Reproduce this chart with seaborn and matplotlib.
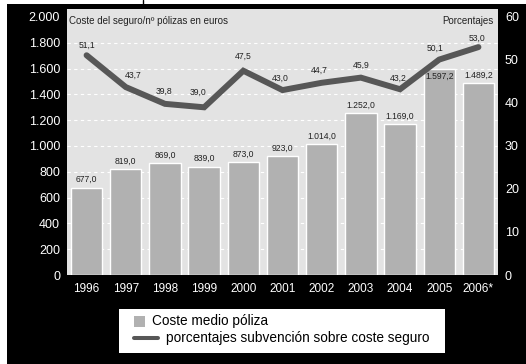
import numpy as np
import pandas as pd
import seaborn as sns
import matplotlib.pyplot as plt
from matplotlib.patches import Rectangle
from matplotlib.lines import Line2D

# Datos
years = ["1996", "1997", "1998", "1999", "2000", "2001", "2002", "2003", "2004", "2005", "2006*"]
coste_medio = [677.0, 819.0, 869.0, 839.0, 873.0, 923.0, 1014.0, 1252.0, 1169.0, 1597.2, 1489.2]
subvencion = [51.1, 43.7, 39.8, 39.0, 47.5, 43.0, 44.7, 45.9, 43.2, 50.1, 53.0]

# desplazamiento (px) de las etiquetas de la línea, colocadas a mano en el original
pct_dx = [0, 7, -1, -6, 0, -2, -2, 0, -2, -4, -1]
pct_dy = [10, 12, 13, 15, 14, 12, 12, 12, 11, 11, 9]

PX = 72 / 100  # px -> points


def es_num(v):
    s = f"{v:,.1f}"
    return s.replace(",", "X").replace(".", ",").replace("X", ".")


def main():
    sns.set_theme(style="white")
    plt.rcParams["font.family"] = ["Liberation Sans", "DejaVu Sans"]

    fig = plt.figure(figsize=(5.26, 3.64), dpi=100, facecolor="white")
    # fondo negro con pequeño margen blanco arriba e izquierda
    fig.patches.append(Rectangle((7 / 526, 0), 1, 1 - 4 / 364, transform=fig.transFigure,
                                 facecolor="black", edgecolor="none", zorder=-10))
    fig.lines.append(Line2D([143 / 526, 143 / 526], [1 - 4 / 364, 1], transform=fig.transFigure,
                            color="black", lw=1))

    ax = fig.add_axes([67 / 526, 1 - 275 / 364, 431 / 526, 266 / 364])
    ax.set_facecolor("#e3e3e3")

    df = pd.DataFrame({"anio": years, "coste": coste_medio, "pct": subvencion})
    sns.barplot(data=df, x="anio", y="coste", color="#b1b1b1", saturation=1,
                width=0.8, ax=ax, zorder=2)

    ymax = 2062
    ax.set_ylim(0, ymax)
    ax.set_xlim(-0.5, len(years) - 0.5)
    ax.set_yticks(range(0, 2001, 200))
    ax.set_yticklabels([f"{v:,}".replace(",", ".") for v in range(0, 2001, 200)])
    for v in range(0, 1801, 200):
        ax.axhline(v, color="white", lw=0.8, ls=(0, (3, 3)), zorder=1)
    ax.set_xlabel("")
    ax.set_ylabel("")
    for s in ax.spines.values():
        s.set_visible(False)
    ax.tick_params(axis="y", colors="white", labelsize=9, length=0, pad=5)
    ax.tick_params(axis="x", colors="white", labelsize=8.5, length=0, pad=6)

    for i, v in enumerate(coste_medio):
        off = -7 if i == 9 else 8
        ax.annotate(es_num(v), (i, v), xytext=(0, off * PX), textcoords="offset points",
                    ha="center", va="center", fontsize=6.2, color="#222222", zorder=5)

    ax2 = ax.twinx()
    ax2.set_ylim(0, ymax * 0.03)
    sns.lineplot(x=np.arange(len(years)), y=subvencion, color="#575757", lw=4.3,
                 ax=ax2, zorder=4, solid_joinstyle="miter")
    ax2.set_yticks(range(0, 61, 10))
    for s in ax2.spines.values():
        s.set_visible(False)
    ax2.tick_params(axis="y", colors="white", labelsize=9, length=0, pad=5)
    ax2.grid(False)
    for i, v in enumerate(subvencion):
        ax2.annotate(es_num(v), (i, v), xytext=(pct_dx[i] * PX, pct_dy[i] * PX),
                     textcoords="offset points", ha="center", va="center",
                     fontsize=6.2, color="#222222", zorder=5)

    ax.text(0.004, 0.955, "Coste del seguro/nº pólizas en euros", transform=ax.transAxes,
            fontsize=7, color="#222222", ha="left", va="center")
    ax.text(0.99, 0.955, "Porcentajes", transform=ax.transAxes,
            fontsize=7, color="#222222", ha="right", va="center")

    # leyenda en caja blanca
    ft = fig.transFigure
    fig.patches.append(Rectangle((119 / 526, 1 - 353 / 364), 326 / 526, 44 / 364,
                                 transform=ft, facecolor="white", edgecolor="none", zorder=1))
    fig.patches.append(Rectangle((134 / 526, 1 - 327 / 364), 11 / 526, 11 / 364,
                                 transform=ft, facecolor="#b1b1b1", edgecolor="none", zorder=2))
    fig.lines.append(Line2D([134 / 526, 158 / 526], [1 - 338 / 364] * 2, transform=ft,
                            color="#575757", lw=2.9, zorder=2))
    fig.text(152 / 526, 1 - 321 / 364, "Coste medio póliza", fontsize=9.8,
             color="black", ha="left", va="center", zorder=3)
    fig.text(166 / 526, 1 - 338 / 364, "porcentajes subvención sobre coste seguro",
             fontsize=9.8, color="black", ha="left", va="center", zorder=3)

    fig.savefig("out.png", dpi=100, facecolor=fig.get_facecolor())


if __name__ == "__main__":
    main()
